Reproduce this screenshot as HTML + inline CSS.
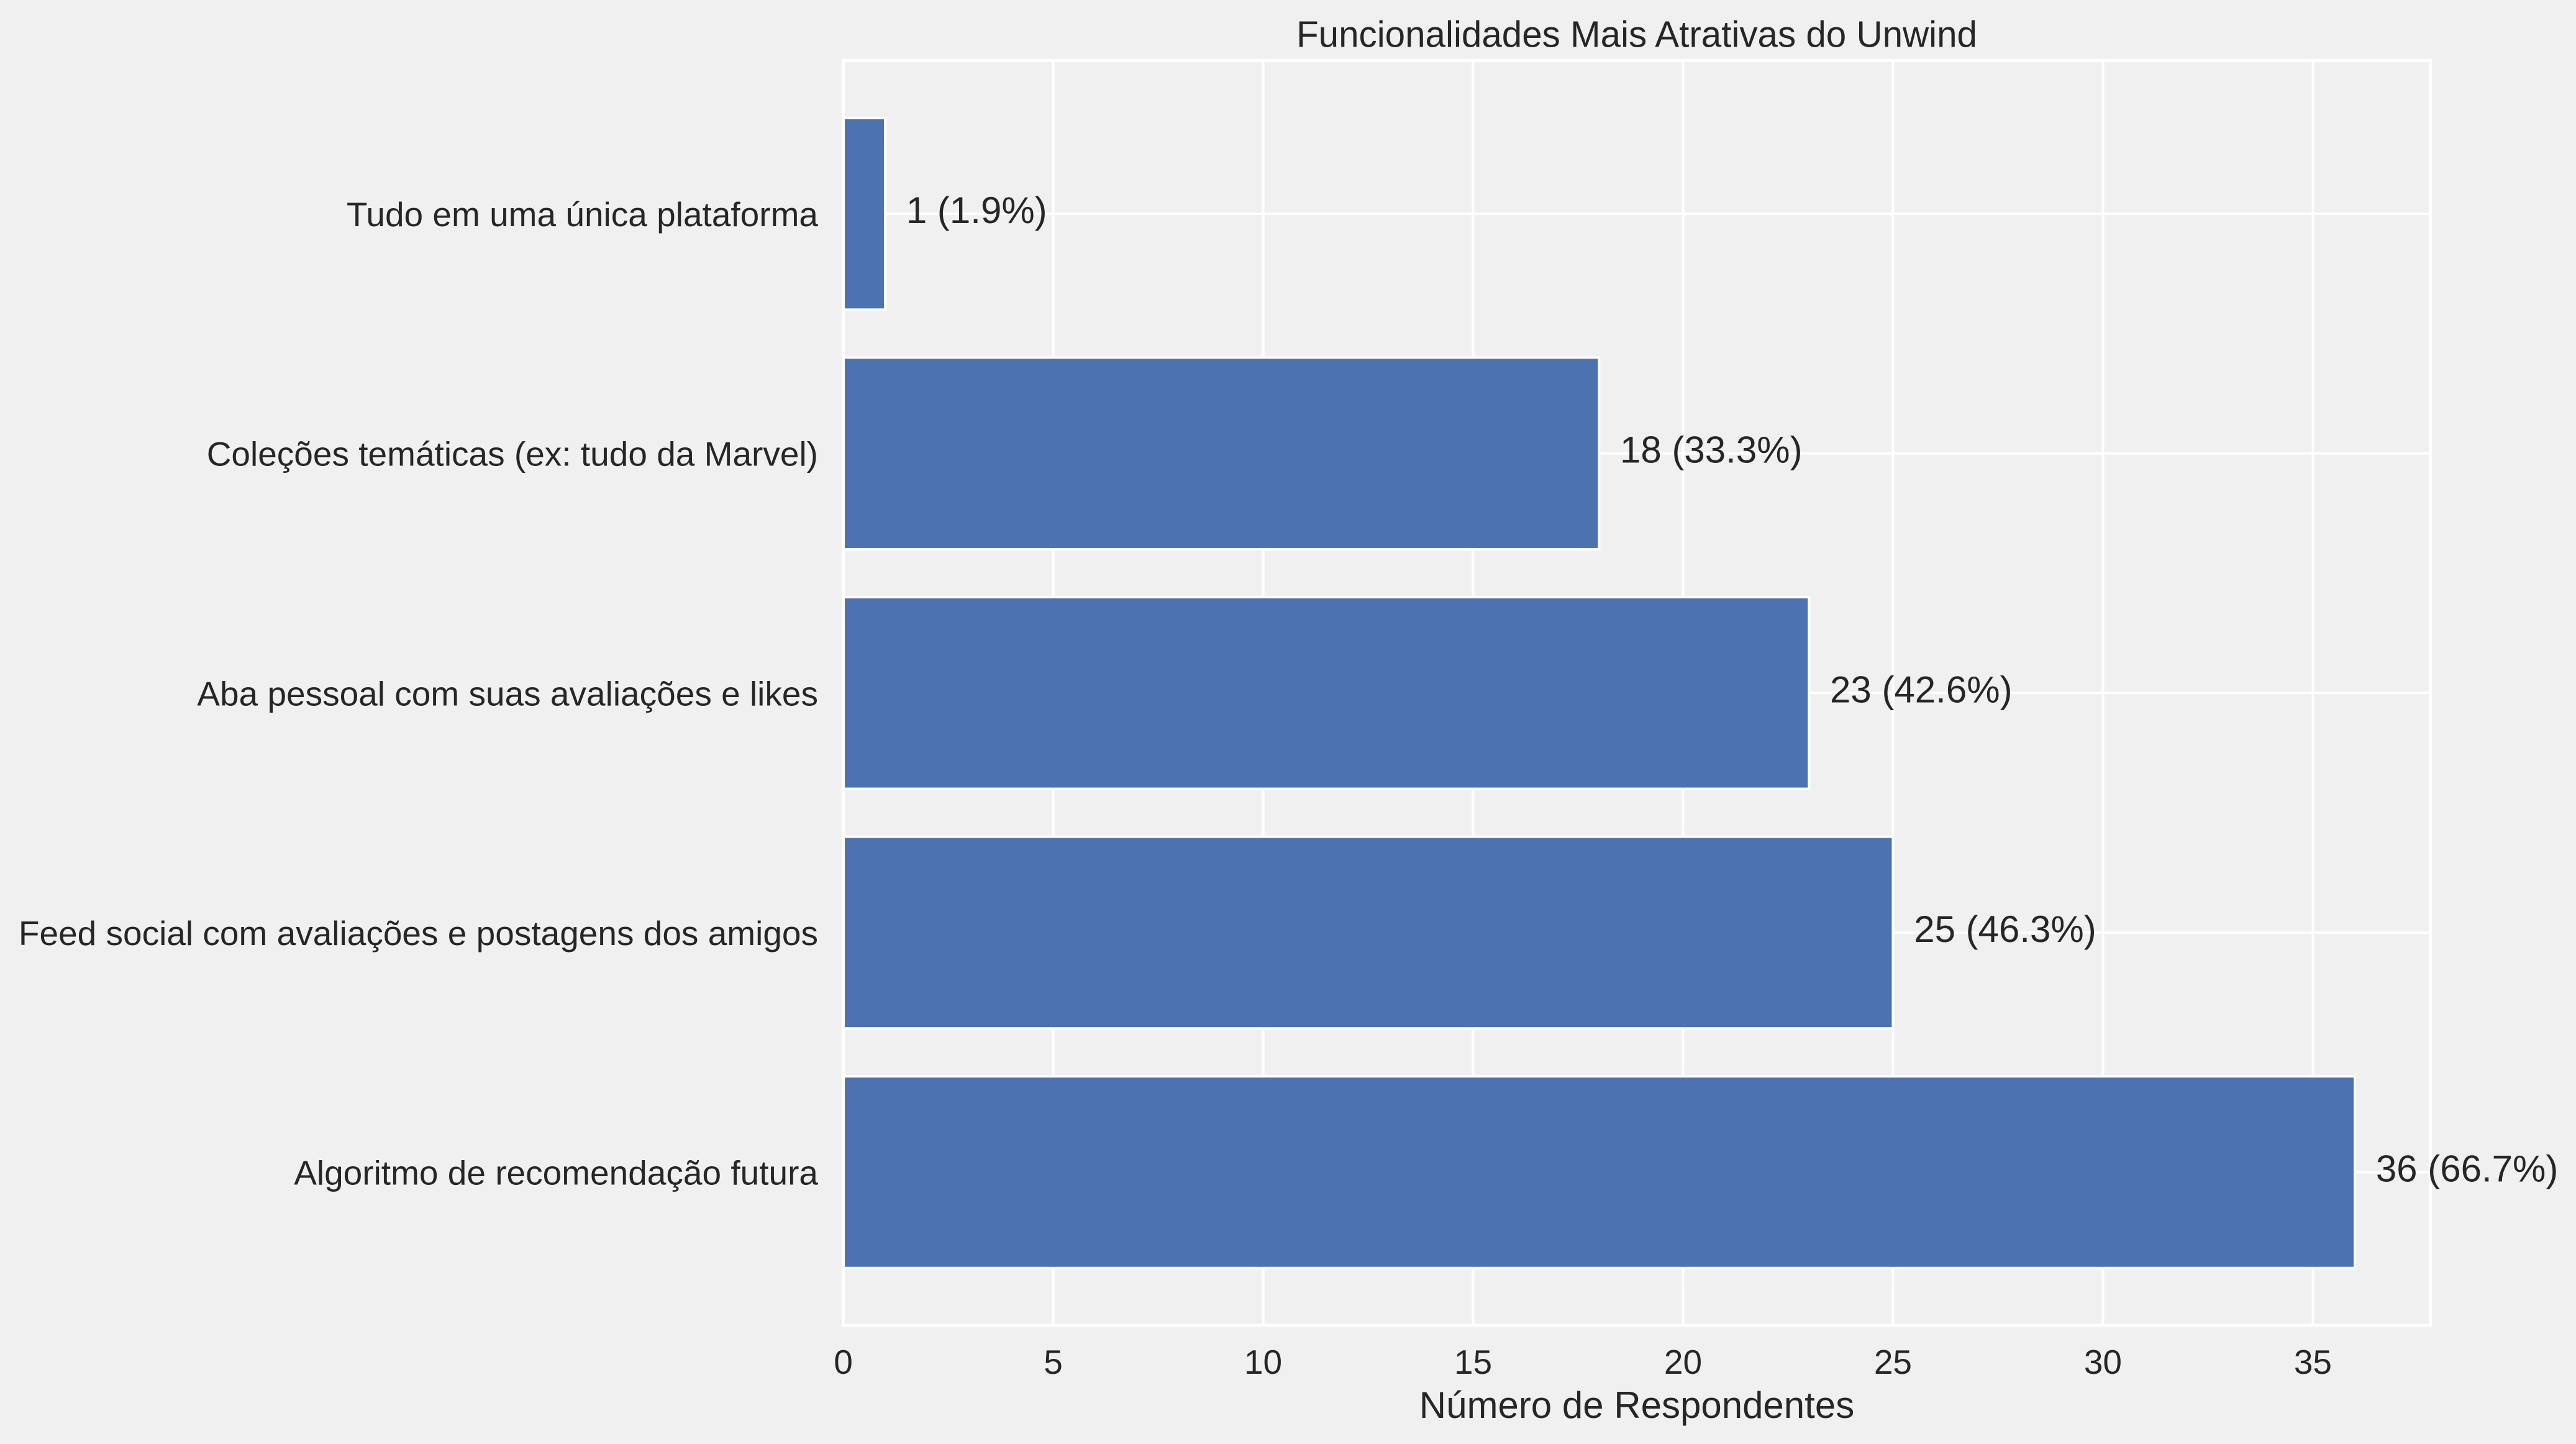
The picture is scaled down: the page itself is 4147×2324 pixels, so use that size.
<!DOCTYPE html>
<html lang="pt">
<head>
<meta charset="utf-8">
<title>Funcionalidades Mais Atrativas do Unwind</title>
<style>
html,body{margin:0;padding:0;background:#f0f0f0;width:4147px;height:2324px;overflow:hidden}
svg{display:block}
text{font-family:"Liberation Sans",Arial,sans-serif;fill:#262626}
</style>
</head>
<body>
<svg id="chart" xmlns="http://www.w3.org/2000/svg" width="4147" height="2324" viewBox="0 0 4147 2324">
<rect x="0" y="0" width="4147" height="2324" fill="#f0f0f0"/>
<g id="grid"></g>
<g id="bars"></g>
<g id="spines"></g>
<g id="labels"></g>
<text x="2635" y="75.5" font-size="59" text-anchor="middle" textLength="1096" lengthAdjust="spacingAndGlyphs">Funcionalidades Mais Atrativas do Unwind</text>
<text x="2635" y="2282" font-size="60" text-anchor="middle">Número de Respondentes</text>
</svg>
<script>
const categories = [
  "Algoritmo de recomendação futura",
  "Feed social com avaliações e postagens dos amigos",
  "Aba pessoal com suas avaliações e likes",
  "Coleções temáticas (ex: tudo da Marvel)",
  "Tudo em uma única plataforma"
];
const counts = [36, 25, 23, 18, 1];
const percents = ["66.7", "46.3", "42.6", "33.3", "1.9"];
const xTicks = [0, 5, 10, 15, 20, 25, 30, 35];

const NS = "http://www.w3.org/2000/svg";
const plot = { left: 1357.5, right: 3912.7, top: 97.3, bottom: 2133.3 };
const barThickness = 0.8;
const xMax = Math.max(...counts) * 1.05;
const yMin = -0.5 - 0.14;
const yMax = (categories.length - 1) + 0.5 + 0.14;
const xScale = v => plot.left + (v / xMax) * (plot.right - plot.left);
const yScale = v => plot.bottom - ((v - yMin) / (yMax - yMin)) * (plot.bottom - plot.top);

function make(tag, attrs, text) {
  const el = document.createElementNS(NS, tag);
  for (const k in attrs) el.setAttribute(k, attrs[k]);
  if (text !== undefined) el.textContent = text;
  return el;
}

const gridG = document.getElementById("grid");
const barsG = document.getElementById("bars");
const spinesG = document.getElementById("spines");
const labelsG = document.getElementById("labels");
const white = "#ffffff";

xTicks.forEach(t => {
  const line = make("line", { x1: xScale(t), x2: xScale(t), y1: plot.top, y2: plot.bottom, stroke: white, "stroke-width": 4 });
  
  
  gridG.appendChild(line);
  const label = make("text", { x: xScale(t), y: 2211, "font-size": 55, "text-anchor": "middle" }, String(t));
  
  
  labelsG.appendChild(label);
});

categories.forEach((c, i) => {
  const y = yScale(i);
  const line = make("line", { x1: plot.left, x2: plot.right, y1: y, y2: y, stroke: white, "stroke-width": 4 });
  
  
  gridG.appendChild(line);

  const yTop = yScale(i + barThickness / 2);
  const yBot = yScale(i - barThickness / 2);
  const bar = make("rect", {
    x: xScale(0), y: yTop, width: xScale(counts[i]) - xScale(0), height: yBot - yTop,
    fill: "#4c72b0", stroke: white, "stroke-width": 4
  });
  
  
  barsG.appendChild(bar);

  const cat = make("text", { x: 1317, y: y + 20, "font-size": 55, "text-anchor": "end" }, c);
  
  
  labelsG.appendChild(cat);

  const val = make("text", { x: xScale(counts[i]) + 33.8, y: y + 15, "font-size": 60 }, counts[i] + " (" + percents[i] + "%)");
  
  
  labelsG.appendChild(val);
});

[
  ["spine-left", plot.left, plot.top, plot.left, plot.bottom],
  ["spine-right", plot.right, plot.top, plot.right, plot.bottom],
  ["spine-top", plot.left, plot.top, plot.right, plot.top],
  ["spine-bottom", plot.left, plot.bottom, plot.right, plot.bottom]
].forEach(s => {
  const line = make("line", { x1: s[1], y1: s[2], x2: s[3], y2: s[4], stroke: white, "stroke-width": 5.2, "stroke-linecap": "square" });
  
  
  spinesG.appendChild(line);
});
</script>
</body>
</html>
